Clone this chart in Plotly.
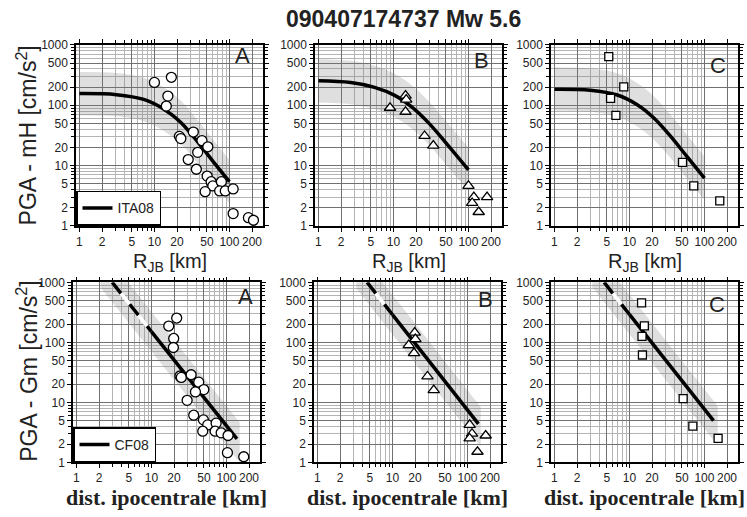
import math
import plotly.graph_objects as go

W, H = 747, 517
FONT = "Liberation Sans, Arial, Helvetica, sans-serif"
SERIF = "Liberation Serif, Times New Roman, serif"

TITLE = "090407174737 Mw 5.6"
x_ticks = [1, 2, 5, 10, 20, 50, 100, 200]
x_ticktext = ["1", "2", "5", "10", "20", "50", "100", "200"]
y_ticks = [1, 2, 5, 10, 20, 50, 100, 200, 500, 1000]
y_ticktext = ["1", "2", "5", "10", "20", "50", "100", "200", "500", "1000"]
minor_x = [3, 4, 6, 7, 8, 9, 30, 40, 60, 70, 80, 90, 300]
minor_y = [3, 4, 6, 7, 8, 9, 30, 40, 60, 70, 80, 90, 300, 400, 600, 700, 800, 900]

# ---------------- top row: ITA08 curves (R_JB) ----------------
ita_a_x = [1.0, 3.1, 7.2, 13.4, 22.5, 37.7, 63, 100]
ita_a_y = [156, 150, 125, 86, 52, 24.7, 11, 5.4]
ita_b_x = [1.0, 2.7, 5.6, 10.4, 17.5, 29.4, 49.4, 100]
ita_b_y = [254, 238, 198, 146, 94, 51, 24.3, 8.5]
ita_c_x = [1.0, 3.0, 6.9, 12.7, 21, 35, 59, 100]
ita_c_y = [185, 178, 148, 102, 62, 31, 13.9, 6.2]
sigma_top = 0.36  # half-width of the grey band (log10 units)

# observations, top row
obs_a_x = [10.0, 16.8, 15.1, 14.4, 21.5, 22.5, 33, 43, 51.5, 37.7, 28.2, 36.2, 50.4, 57, 60, 47.4, 78, 74, 88, 112, 112, 179, 209]
obs_a_y = [239, 291, 142, 97, 30.5, 28, 36, 26, 20.5, 16.6, 12.6, 8.7, 6.7, 5.4, 4.6, 3.7, 5.4, 3.8, 3.8, 4.1, 1.6, 1.37, 1.24]
obs_b_x = [9.0, 14.5, 14.8, 14.5, 26, 34, 100, 118, 112, 137, 177]
obs_b_y = [91, 145, 124, 78, 31, 21.4, 4.6, 3.0, 2.4, 1.7, 3.0]
obs_c_x = [5.3, 8.4, 5.6, 6.6, 51, 72, 160]
obs_c_y = [640, 201, 130, 68, 11.3, 4.6, 2.6]

# ---------------- bottom row: CF08 lines (hypocentral distance) ----------------
cf_a_dash_x = [3.0, 10]
cf_a_dash_y = [1000, 151]
cf_a_x = [10, 138]
cf_a_y = [151, 2.46]
cf_b_dash_x = [4.6, 10]
cf_b_dash_y = [1000, 290]
cf_b_x = [10, 140]
cf_b_y = [290, 4.38]
cf_c_dash_x = [4.6, 10]
cf_c_dash_y = [1000, 292]
cf_c_x = [10, 132]
cf_c_y = [292, 4.97]

band_a_x = [2.1, 150]
band_a_hi = [3750, 4.6]
band_a_lo = [820, 1.0]
band_b_x = [3.3, 150]
band_b_hi = [3630, 8.4]
band_b_lo = [790, 1.84]
band_c_x = [3.2, 150]
band_c_hi = [3780, 8.7]
band_c_lo = [826, 1.9]

# observations, bottom row
hyp_a_x = [17, 21.7, 19.8, 19.6, 24.0, 25.0, 33.8, 42.7, 49.9, 38.6, 29.9, 36.6, 49.3, 56.3, 48.3, 72.8, 70.6, 85, 105, 103, 170]
hyp_a_y = [187, 254, 116, 82, 27.5, 26, 28.8, 21.7, 16.3, 14.9, 10.8, 6.1, 5.1, 4.2, 3.3, 4.5, 3.3, 3.1, 2.8, 1.45, 1.24]
hyp_b_x = [19.8, 20.2, 16.5, 19.4, 29.3, 35.5, 107, 115, 107, 136, 175]
hyp_b_y = [145, 113, 90, 66, 27, 16, 4.2, 3.0, 2.5, 1.5, 2.8]
hyp_c_x = [14.5, 15.8, 14.7, 14.9, 52, 70, 152]
hyp_c_y = [453, 188, 126, 61.5, 11.5, 4.0, 2.5]

# ---------------- layout geometry (pixels) ----------------
panels = [
    dict(n=1, xd=(76, 263), yd=(39, 225)),
    dict(n=2, xd=(315, 502), yd=(39, 225)),
    dict(n=3, xd=(551, 738), yd=(39, 225)),
    dict(n=4, xd=(73, 260), yd=(283, 468)),
    dict(n=5, xd=(314, 501), yd=(283, 468)),
    dict(n=6, xd=(551, 738), yd=(283, 468)),
]

def ax_ids(n):
    return ("x" if n == 1 else f"x{n}"), ("y" if n == 1 else f"y{n}")

BAND = "rgba(120,120,120,0.24)"
fig = go.Figure()

def add_band(n, xs, hi, lo, shape):
    xa, ya = ax_ids(n)
    fig.add_trace(go.Scatter(x=xs, y=lo, mode="lines", line=dict(width=0, shape=shape),
                             xaxis=xa, yaxis=ya, showlegend=False, hoverinfo="skip"))
    fig.add_trace(go.Scatter(x=xs, y=hi, mode="lines", line=dict(width=0, shape=shape),
                             fill="tonexty", fillcolor=BAND,
                             xaxis=xa, yaxis=ya, showlegend=False, hoverinfo="skip"))

def add_obs(n, xs, ys, symbol, size):
    xa, ya = ax_ids(n)
    fig.add_trace(go.Scatter(x=xs, y=ys, mode="markers",
                             marker=dict(symbol=symbol, size=size, color="white",
                                         line=dict(color="black", width=1.3)),
                             xaxis=xa, yaxis=ya, showlegend=False))

# top row
for n, cx, cy, ox, oy, sym, sz in [
    (1, ita_a_x, ita_a_y, obs_a_x, obs_a_y, "circle", 10),
    (2, ita_b_x, ita_b_y, obs_b_x, obs_b_y, "triangle-up", 10),
    (3, ita_c_x, ita_c_y, obs_c_x, obs_c_y, "square", 8),
]:
    hi = [v * 10 ** sigma_top for v in cy]
    lo = [v / 10 ** sigma_top for v in cy]
    add_band(n, cx, hi, lo, "spline")
    xa, ya = ax_ids(n)
    fig.add_trace(go.Scatter(x=cx, y=cy, mode="lines", name="ITA08",
                             line=dict(color="black", width=3.5, shape="spline"),
                             xaxis=xa, yaxis=ya, showlegend=(n == 1), legend="legend"))
    add_obs(n, ox, oy, sym, sz)

# bottom row
for n, bx, bhi, blo, dx, dy, sx, sy, ox, oy, sym, sz in [
    (4, band_a_x, band_a_hi, band_a_lo, cf_a_dash_x, cf_a_dash_y, cf_a_x, cf_a_y, hyp_a_x, hyp_a_y, "circle", 10),
    (5, band_b_x, band_b_hi, band_b_lo, cf_b_dash_x, cf_b_dash_y, cf_b_x, cf_b_y, hyp_b_x, hyp_b_y, "triangle-up", 10),
    (6, band_c_x, band_c_hi, band_c_lo, cf_c_dash_x, cf_c_dash_y, cf_c_x, cf_c_y, hyp_c_x, hyp_c_y, "square", 8),
]:
    add_band(n, bx, bhi, blo, "linear")
    xa, ya = ax_ids(n)
    fig.add_trace(go.Scatter(x=dx, y=dy, mode="lines", line=dict(color="white", width=3.5),
                             xaxis=xa, yaxis=ya, showlegend=False, hoverinfo="skip"))
    fig.add_trace(go.Scatter(x=dx, y=dy, mode="lines", line=dict(color="black", width=3.5, dash="14px,14px"),
                             xaxis=xa, yaxis=ya, showlegend=False, hoverinfo="skip"))
    fig.add_trace(go.Scatter(x=sx, y=sy, mode="lines", name="CF08",
                             line=dict(color="black", width=3.5),
                             xaxis=xa, yaxis=ya, showlegend=(n == 4), legend="legend2"))
    add_obs(n, ox, oy, sym, sz)

xr = [math.log10(0.9), math.log10(280)]
layout = dict(width=W, height=H, margin=dict(l=0, r=0, t=0, b=0),
              paper_bgcolor="white", plot_bgcolor="white",
              font=dict(family=FONT, color="#222"))
for p in panels:
    n = p["n"]
    xn = "xaxis" if n == 1 else f"xaxis{n}"
    yn = "yaxis" if n == 1 else f"yaxis{n}"
    xa, ya = ax_ids(n)
    common = dict(type="log", showline=True, linecolor="black", linewidth=1.5, mirror="ticks",
                  ticks="outside", ticklen=4, tickwidth=1, tickcolor="black",
                  showgrid=True, gridcolor="#707070", gridwidth=0.8, zeroline=False,
                  tickfont=dict(family=FONT, size=12, color="#222"), tickmode="array")
    layout[xn] = dict(common, domain=[p["xd"][0] / W, p["xd"][1] / W], anchor=ya, range=xr,
                      tickvals=x_ticks, ticktext=x_ticktext,
                      minor=dict(tickmode="array", tickvals=minor_x, ticks="outside", ticklen=3,
                                 tickcolor="black", showgrid=True, gridcolor="#b4b4b4", gridwidth=0.7))
    layout[yn] = dict(common, domain=[1 - p["yd"][1] / H, 1 - p["yd"][0] / H], anchor=xa, range=[0, 3],
                      tickvals=y_ticks, ticktext=y_ticktext,
                      minor=dict(tickmode="array", tickvals=minor_y, ticks="outside", ticklen=3,
                                 tickcolor="black", showgrid=True, gridcolor="#b4b4b4", gridwidth=0.7))

layout["legend"] = dict(x=76 / W, y=1 - 225 / H, xanchor="left", yanchor="bottom",
                        bgcolor="white", bordercolor="black", borderwidth=1.5,
                        font=dict(family=FONT, size=14, color="#222"))
layout["legend2"] = dict(x=73 / W, y=1 - 468 / H, xanchor="left", yanchor="bottom",
                         bgcolor="white", bordercolor="black", borderwidth=1.5,
                         font=dict(family=FONT, size=14, color="#222"))

ann = []
ann.append(dict(text="<b>" + TITLE + "</b>", x=404 / W, y=1 - 12 / H, xref="paper", yref="paper",
                showarrow=False, xanchor="center", yanchor="middle", font=dict(family=FONT, size=23, color="#222")))
letters = [("A", 1, 0.941, 0.941), ("B", 2, 0.941, 0.914), ("C", 3, 0.947, 0.887),
           ("A", 4, 0.973, 0.922), ("B", 5, 0.968, 0.905), ("C", 6, 0.941, 0.878)]
for t, n, fx, fy in letters:
    xa, ya = ax_ids(n)
    ann.append(dict(text=t, x=fx, y=fy, xref=f"{xa} domain", yref=f"{ya} domain", showarrow=False,
                    xanchor="right", yanchor="middle", font=dict(family=FONT, size=22, color="#222")))
for p in panels[:3]:
    cx = (p["xd"][0] + p["xd"][1]) / 2
    ann.append(dict(text="R<sub>JB</sub> [km]", x=cx / W, y=1 - 263 / H, xref="paper", yref="paper",
                    showarrow=False, xanchor="center", yanchor="middle", font=dict(family=FONT, size=20, color="#222")))
for p in panels[3:]:
    cx = (p["xd"][0] + p["xd"][1]) / 2
    ann.append(dict(text="<b>dist. ipocentrale [km]</b>", x=cx / W, y=1 - 504 / H, xref="paper", yref="paper",
                    showarrow=False, xanchor="center", yanchor="middle", font=dict(family=SERIF, size=22, color="#222")))
ann.append(dict(text="PGA - mH [cm/s<sup>2</sup>]", x=27 / W, y=1 - 132 / H, xref="paper", yref="paper",
                showarrow=False, textangle=-90, xanchor="center", yanchor="middle",
                font=dict(family=FONT, size=23, color="#222")))
ann.append(dict(text="PGA - Gm [cm/s<sup>2</sup>]", x=27 / W, y=1 - 375 / H, xref="paper", yref="paper",
                showarrow=False, textangle=-90, xanchor="center", yanchor="middle",
                font=dict(family=FONT, size=23, color="#222")))
layout["annotations"] = ann

fig.update_layout(**layout)
fig.write_html("out.html", config={"displayModeBar": False},
               post_script="document.body.style.margin='0px';")
